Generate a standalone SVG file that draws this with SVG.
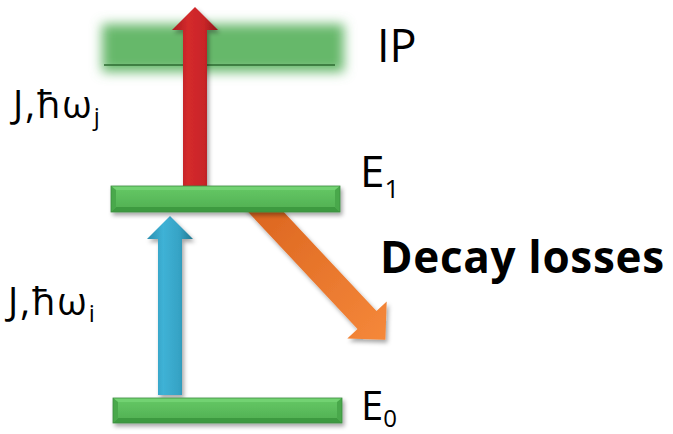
<svg xmlns="http://www.w3.org/2000/svg" width="673" height="434" viewBox="0 0 673 434">
  <style>
    .lbl { font-family: "Open Sans", "Liberation Sans", sans-serif; fill: #000; }
    .bold { font-weight: bold; }
    .coupling { font-size: 38px; letter-spacing: 2px; }
  </style>
  <defs>
    <filter id="blur" x="-20%" y="-60%" width="140%" height="220%">
      <feGaussianBlur stdDeviation="6"/>
    </filter>
    <filter id="shadow" x="-20%" y="-20%" width="150%" height="150%">
      <feDropShadow dx="2" dy="3" stdDeviation="2" flood-color="#000" flood-opacity="0.35"/>
    </filter>
    <linearGradient id="redG" x1="0" y1="0" x2="1" y2="0">
      <stop offset="0" stop-color="#a91c20"/>
      <stop offset="0.35" stop-color="#d42a2c"/>
      <stop offset="0.7" stop-color="#c92528"/>
      <stop offset="1" stop-color="#8e171a"/>
    </linearGradient>
    <linearGradient id="blueG" x1="0" y1="0" x2="1" y2="0">
      <stop offset="0" stop-color="#2a8eaf"/>
      <stop offset="0.35" stop-color="#3fb2d6"/>
      <stop offset="0.7" stop-color="#36a3c5"/>
      <stop offset="1" stop-color="#23778f"/>
    </linearGradient>
    <linearGradient id="orangeG" x1="0" y1="0" x2="1" y2="1">
      <stop offset="0" stop-color="#d9621d"/>
      <stop offset="1" stop-color="#f5883a"/>
    </linearGradient>
    <linearGradient id="barG" x1="0" y1="0" x2="0" y2="1">
      <stop offset="0" stop-color="#66c966"/>
      <stop offset="1" stop-color="#4fae51"/>
    </linearGradient>
  </defs>

  <!-- ionisation band -->
  <g id="ip">
    <rect x="102" y="24" width="242" height="48" fill="#66b86b" filter="url(#blur)"/>
    <line x1="104" y1="65" x2="335" y2="65" stroke="#2d6a30" stroke-width="1.3"/>
    <text class="lbl" x="377" y="62" font-size="45">IP</text>
  </g>

  <!-- transitions -->
  <g id="connectors">
    <polygon id="arrow-j" points="195,7 218,30 207,30 207,192 183,192 183,30 172,30" fill="url(#redG)" filter="url(#shadow)"/>
    <polygon id="arrow-i" points="170,216 193,239 182,239 182,395 158,395 158,239 147,239" fill="url(#blueG)" filter="url(#shadow)"/>
    <polygon id="arrow-decay" points="261.8,188.5 376.5,311.1 386.7,301.6 385.4,339.7 347.3,338.4 357.5,328.9 242.8,206.3" fill="url(#orangeG)" filter="url(#shadow)"/>
  </g>

  <!-- excited level -->
  <g id="e1">
    <g filter="url(#shadow)">
      <rect x="111" y="186" width="229" height="26" fill="url(#barG)"/>
      <polygon points="111,186 340,186 335,190 116,190" fill="#72d272"/>
      <polygon points="111,212 340,212 335,207 116,207" fill="#3e9a41"/>
      <polygon points="111,186 116,190 116,207 111,212" fill="#4aa84c"/>
      <polygon points="340,186 335,190 335,207 340,212" fill="#4aa84c"/>
      <rect x="111" y="186" width="229" height="26" fill="none" stroke="#3a8c3d" stroke-width="0.8"/>
    </g>
    <text class="lbl" x="360" y="187" font-size="44">E<tspan font-size="26" dy="11">1</tspan></text>
  </g>

  <!-- ground level -->
  <g id="e0">
    <g filter="url(#shadow)">
      <rect x="113" y="398" width="229" height="25" fill="url(#barG)"/>
      <polygon points="113,398 342,398 337,402 118,402" fill="#72d272"/>
      <polygon points="113,423 342,423 337,418 118,418" fill="#3e9a41"/>
      <polygon points="113,398 118,402 118,418 113,423" fill="#4aa84c"/>
      <polygon points="342,398 337,402 337,418 342,423" fill="#4aa84c"/>
      <rect x="113" y="398" width="229" height="25" fill="none" stroke="#3a8c3d" stroke-width="0.8"/>
    </g>
    <text class="lbl" x="361" y="420" font-size="40">E<tspan font-size="24" dy="7">0</tspan></text>
  </g>

  <!-- labels -->
  <text class="lbl coupling" x="13" y="118">J,ħω<tspan font-size="24" dy="7">j</tspan></text>
  <text class="lbl coupling" x="8" y="315">J,ħω<tspan font-size="24" dy="7">i</tspan></text>
  <text class="lbl bold" x="380" y="273" font-size="44" textLength="284" lengthAdjust="spacing">Decay losses</text>
</svg>
